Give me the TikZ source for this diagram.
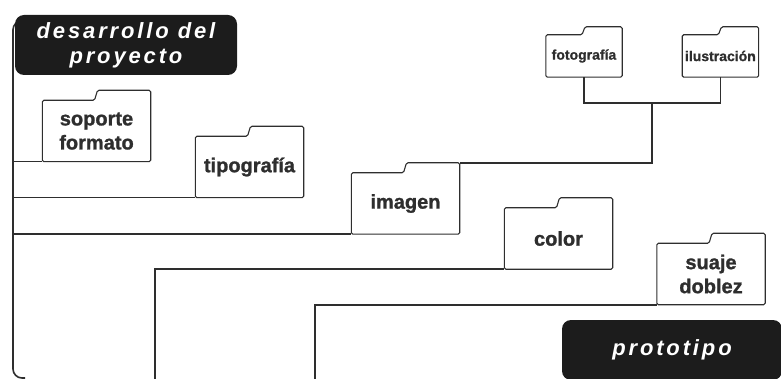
\documentclass[tikz,border=0pt]{standalone}
\usepackage{fontspec}
\setmainfont{Liberation Sans}
\usepackage{tikz}
\usetikzlibrary{positioning, backgrounds}

\definecolor{ink}{HTML}{1C1C1C}
\definecolor{wire}{HTML}{2E2E2E}

\tikzset{
  folder/.style={inner sep=0pt, minimum width=108pt, minimum height=61pt, align=center,
    text=wire, font=\fontsize{20}{24}\selectfont\bfseries\addfontfeatures{FakeBold=1.2}},
  smallfolder/.style={folder, minimum width=76pt, minimum height=42pt,
    font=\fontsize{14}{16}\selectfont\bfseries\addfontfeatures{FakeBold=1}},
  title/.style={fill=ink, text=white, rounded corners=9pt, align=center, inner sep=0pt,
    font=\fontsize{22}{25}\selectfont\bfseries\itshape\addfontfeatures{LetterSpace=13}},
  link/.style={draw=wire, line width=1.6pt},
  outline/.style={draw=wire, line width=1.1pt, rounded corners=1.5pt},
}

\begin{document}
\begin{tikzpicture}[x=1pt, y=-1pt]
        \useasboundingbox (0,0) rectangle (781,379);
        \node[title, minimum width=222pt, minimum height=60pt] (des) at (126,45) {desarrollo del\\proyecto};
        \node[title, minimum width=220pt, minimum height=60pt] (proto) at (672,350) {prototipo};
        \node[folder] (sop) at (96.5,131) {soporte\\formato};
        \node[folder] (tip) at (249.5,167) {tipografía};
        \node[folder] (img) at (405.5,203.5) {imagen};
        \node[folder] (col) at (558.5,238.5) {color};
        \node[folder] (sua) at (711,274) {suaje\\doblez};
        \node[smallfolder] (fot) at (584,56) {fotografía};
        \node[smallfolder, right=60pt of fot] (ilu) {ilustración};
%
        \coordinate (spine) at (13,378);
        \coordinate (foot1) at (155,379);
        \coordinate (foot2) at (315,379);
        \coordinate (hub) at (652,103);
%
        \foreach \f/\t in {sop/10, tip/10, img/10, col/10, sua/10, fot/8, ilu/8}
            \draw[outline] (\f.south west) |- ([xshift=-2pt]\f.north) -- ++(3,-\t) -| (\f.south east) -- cycle;
%
        \begin{scope}[on background layer]
        \draw[link, rounded corners=9pt] ([yshift=-6pt]des.north) -| (spine) -- ++(12,0);
        \draw[link] (sop.south west) -- (sop.south west -| spine);
        \draw[link] (tip.south west) -- (tip.south west -| spine);
        \draw[link] (img.south west) -- (img.south west -| spine);
        \draw[link] (col.south west) -| (foot1);
        \draw[link] (sua.south west) -| (foot2);
        \draw[link] ([yshift=10pt]img.north east) -| (hub);
        \draw[link] (fot.south) |- (hub) -| (ilu.south);
        \end{scope}
\end{tikzpicture}
\end{document}
